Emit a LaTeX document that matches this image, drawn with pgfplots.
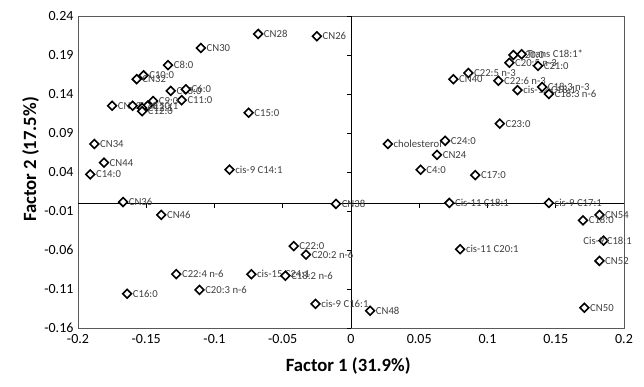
\documentclass[border=0pt]{standalone}
\usepackage{pgfplots}
\pgfplotsset{compat=1.18}
\usepackage{pgfplotstable}
\usepackage{fontspec}
\setmainfont{Carlito}
\definecolor{lblgray}{HTML}{404040}
\definecolor{framegray}{HTML}{595959}

\pgfplotstableread[col sep=comma]{
x,y,label
-0.068,0.217,CN28
-0.025,0.214,CN26
-0.110,0.199,CN30
-0.134,0.177,C8:0
-0.152,0.164,C10:0
-0.157,0.159,CN32
-0.132,0.144,C13:0
-0.121,0.146,C6:0
-0.124,0.132,C11:0
-0.145,0.131,C9:0
-0.175,0.125,CN42
-0.160,0.125,C5:0
-0.149,0.125,C10:1
-0.153,0.122,C12:1
-0.153,0.118,C12:0
-0.075,0.116,C15:0
-0.188,0.076,CN34
-0.181,0.052,CN44
-0.191,0.037,C14:0
-0.089,0.043,cis-9 C14:1
-0.167,0.0015,CN36
-0.139,-0.015,CN46
-0.011,-0.001,CN38
-0.042,-0.055,C22:0
-0.033,-0.066,C20:2 n-6
-0.128,-0.091,C22:4 n-6
-0.073,-0.091,cis-15 C24:1
-0.048,-0.093,C18:2 n-6
-0.111,-0.111,C20:3 n-6
-0.164,-0.116,C16:0
-0.026,-0.129,cis-9 C16:1
0.014,-0.138,CN48
0.119,0.190,C20:0
0.125,0.191,Trans C18:1*
0.116,0.180,C20:5 n-3
0.137,0.176,C21:0
0.086,0.167,C22:5 n-3
0.075,0.159,CN40
0.108,0.157,C22:6 n-3
0.122,0.145,cis-12 C18:1
0.140,0.149,C18:3 n-3
0.145,0.140,C18:3 n-6
0.109,0.102,C23:0
0.027,0.076,cholesterol
0.069,0.080,C24:0
0.063,0.062,CN24
0.051,0.043,C4:0
0.091,0.036,C17:0
0.072,0.0003,Cis-11 C18:1
0.145,0.0003,cis-9 C17:1
0.182,-0.015,CN54
0.170,-0.022,C18:0
0.182,-0.074,CN52
0.171,-0.134,CN50
0.080,-0.059,cis-11 C20:1
}\datatable

\pgfplotstableread[col sep=comma]{
x,y,label
0.185,-0.048,Cis-9 C18:1
}\centertable

\begin{document}
\begin{tikzpicture}
\begin{axis}[
  scale only axis,
  width=546pt, height=312pt,
  xmin=-0.2, xmax=0.2, ymin=-0.16, ymax=0.24,
  clip=false,
  axis line style={framegray, line width=0.8pt},
  tick style={draw=none},
  xtick={-0.2,-0.15,-0.1,-0.05,0,0.05,0.1,0.15,0.2},
  xticklabels={-0.2,-0.15,-0.1,-0.05,0,0.05,0.1,0.15,0.2},
  ytick={-0.16,-0.11,-0.06,-0.01,0.04,0.09,0.14,0.19,0.24},
  yticklabels={-0.16,-0.11,-0.06,-0.01,0.04,0.09,0.14,0.19,0.24},
  /pgf/number format/assume math mode=true,
  ticklabel style={font=\fontsize{14}{16}\selectfont, text=black},
  xticklabel style={yshift=-3pt},
  yticklabel style={xshift=-1pt},
  xlabel={\textbf{Factor 1 (31.9\%)}},
  ylabel={\textbf{Factor 2 (17.5\%)}},
  label style={font=\fontsize{18.7}{21}\selectfont},
  xlabel style={at={(axis description cs:0.495,-0.122)}, anchor=center},
  ylabel style={at={(axis description cs:-0.087,0.54)}, anchor=center},
  point meta=explicit symbolic,
  nodes near coords,
  every node near coord/.append style={font=\fontsize{10.7}{12}\selectfont, text=lblgray, anchor=west, xshift=4pt, inner sep=1pt},
]
\draw[black, line width=0.8pt] (axis cs:-0.2,0) -- (axis cs:0.2,0);
\draw[black, line width=0.8pt] (axis cs:0,-0.16) -- (axis cs:0,0.24);
\pgfplotsinvokeforeach{-0.15,-0.1,-0.05,0,0.05,0.1,0.15}{
  \draw[black, line width=0.8pt] (axis cs:#1,0) -- ++(0pt,-4.5pt);
}
\pgfplotsinvokeforeach{-0.16,-0.11,-0.06,-0.01,0.04,0.09,0.14,0.19,0.24}{
  \draw[black, line width=0.8pt] (axis cs:0,#1) -- ++(-4.5pt,0pt);
}
\addplot[only marks, mark=square*, mark size=3.1pt,
  mark options={rotate=45, fill=white, draw=black, line width=1.6pt}]
  table[x=x, y=y, meta=label]{\datatable};
\addplot[only marks, mark=square*, mark size=3.1pt,
  mark options={rotate=45, fill=white, draw=black, line width=1.6pt},
  every node near coord/.append style={anchor=center, xshift=0pt}]
  table[x=x, y=y, meta=label]{\centertable};
\end{axis}
\pgfresetboundingbox
\path[use as bounding box] (-78pt,-58pt) rectangle (566pt,328pt);
\end{tikzpicture}
\end{document}
